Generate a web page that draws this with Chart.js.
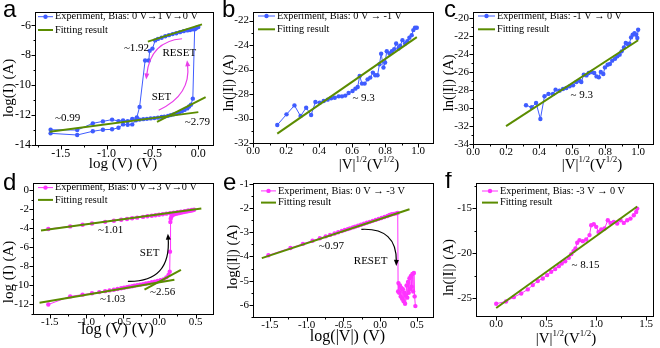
<!DOCTYPE html>
<html>
<head>
<meta charset="utf-8">
<script src="https://cdn.jsdelivr.net/npm/chart.js@4.4.0/dist/chart.umd.min.js"></script>
<style>
  body { margin: 0; background: #fff; }
  #fig { position: relative; width: 660px; height: 348px; overflow: hidden; background: #fff; }
  #fig canvas { position: absolute; }
</style>
</head>
<body>
<div id="fig">
  <canvas id="pa" width="220" height="172" style="left:0;top:0"></canvas>
  <canvas id="pb" width="220" height="172" style="left:220px;top:0"></canvas>
  <canvas id="pc" width="220" height="172" style="left:440px;top:0"></canvas>
  <canvas id="pd" width="220" height="176" style="left:0;top:172px"></canvas>
  <canvas id="pe" width="220" height="176" style="left:220px;top:172px"></canvas>
  <canvas id="pf" width="220" height="176" style="left:440px;top:172px"></canvas>
</div>
<script>
// ---- panel a: log(I) vs log(V), sweep 0 V -> 1 V -> 0 V
const aExpX = [-1.61, -1.32, -1.15, -1.04, -0.94, -0.87, -0.82, -0.77, -0.72, -0.68, -0.64, -0.6, -0.56, -0.52, -0.48, -0.44, -0.4, -0.37, -0.33, -0.3, -0.27, -0.24, -0.21, -0.18, -0.15, -0.12, -0.1, -0.08, -0.06, -0.04, -0.02, 0.0,
  -0.03, -0.06, -0.09, -0.12, -0.16, -0.2, -0.24, -0.28, -0.32, -0.36, -0.4, -0.44, -0.47, -0.5, -0.53, -0.54, -0.58, -0.64, -0.67, -0.72, -0.77, -0.82, -0.87, -0.94, -1.04, -1.15, -1.32, -1.61];
const aExpY = [-13.22, -13.33, -13.08, -12.98, -12.95, -12.85, -12.62, -12.65, -12.62, -12.35, -12.3, -12.27, -12.25, -12.22, -12.2, -12.17, -12.12, -12.1, -12.05, -12.0, -11.95, -11.9, -11.85, -11.75, -11.65, -11.55, -11.42, -11.3, -10.9, -6.25, -6.15, -6.1,
  -6.2, -6.25, -6.3, -6.33, -6.38, -6.45, -6.52, -6.58, -6.65, -6.72, -6.82, -6.9, -7.0, -7.55, -7.7, -8.35, -8.35, -11.45, -12.15, -12.25, -12.4, -12.35, -12.4, -12.3, -12.42, -12.55, -13.0, -12.98];
const aFitLowX = [-1.62, 0.0], aFitLowY = [-13.12, -11.8];
const aFitMidX = [-0.45, 0.08], aFitMidY = [-12.45, -10.8];
const aFitHighX = [-0.55, 0.04], aFitHighY = [-7.08, -5.93];
const aXLabels = ['-1.5', '-1.0', '-0.5', '0.0'];
const aYLabels = ['-14', '-12', '-10', '-8', '-6'];

// ---- panel b: ln(|I|) vs |V|^1/2, 0 V -> -1 V
const bExpX = [0.147, 0.203, 0.251, 0.288, 0.322, 0.352, 0.378, 0.404, 0.428, 0.452, 0.473, 0.495, 0.519, 0.539, 0.559, 0.579, 0.603, 0.62, 0.634, 0.646, 0.66, 0.676, 0.694, 0.71, 0.726, 0.74, 0.754, 0.766, 0.776, 0.79, 0.8, 0.81, 0.827, 0.841, 0.855, 0.867, 0.881, 0.891, 0.905, 0.921, 0.935, 0.947, 0.961, 0.971, 0.981, 0.992];
const bExpY = [-30.53, -29.66, -28.93, -29.8, -29.12, -29.71, -28.65, -28.71, -28.57, -28.46, -28.35, -28.3, -28.19, -28.19, -28.13, -27.91, -27.75, -27.56, -27.42, -26.52, -27.15, -27.15, -26.8, -26.66, -26.25, -26.47, -26.47, -25.57, -24.7, -25.84, -25.43, -24.5, -24.69, -24.5, -24.33, -23.87, -24.28, -24.06, -23.6, -23.87, -23.68, -23.4, -23.19, -22.78, -22.59, -22.59];
const bFitX = [0.147, 0.992], bFitY = [-31.24, -23.35];
const bXLabels = ['0.0', '0.2', '0.4', '0.6', '0.8', '1.0'];
const bYLabels = ['-32', '-30', '-28', '-26', '-24', '-22'];

// ---- panel c: ln(|I|) vs |V|^1/2, -1 V -> 0 V
const cExpX = [0.321, 0.356, 0.382, 0.408, 0.433, 0.457, 0.484, 0.5, 0.524, 0.545, 0.565, 0.585, 0.606, 0.626, 0.646, 0.656, 0.671, 0.687, 0.701, 0.718, 0.734, 0.748, 0.762, 0.774, 0.789, 0.799, 0.815, 0.829, 0.843, 0.86, 0.874, 0.888, 0.9, 0.914, 0.925, 0.937, 0.947, 0.957, 0.967, 0.978, 0.988, 0.995, 1.0];
const cExpY = [-29.69, -29.91, -29.43, -31.21, -28.68, -28.42, -28.42, -27.95, -28.06, -27.88, -27.77, -27.58, -27.47, -27.1, -26.95, -27.1, -26.29, -26.36, -26.1, -25.99, -26.1, -26.47, -26.58, -25.99, -26.21, -25.47, -25.17, -25.09, -24.72, -24.5, -24.24, -24.05, -23.68, -23.24, -22.75, -22.86, -22.83, -22.13, -21.83, -21.65, -21.83, -22.2, -21.28];
const cFitX = [0.2, 1.0], cFitY = [-32.0, -22.45];
const cXLabels = ['0.0', '0.2', '0.4', '0.6', '0.8', '1.0'];
const cYLabels = ['-34', '-32', '-30', '-28', '-26', '-24', '-22', '-20'];

// ---- panel d: log(I) vs log(V), 0 V -> 3 V -> 0 V
const dExpX = [-1.52, -1.22, -1.05, -0.92, -0.82, -0.74, -0.68, -0.62, -0.57, -0.52, -0.48, -0.44, -0.41, -0.37, -0.34, -0.3, -0.26, -0.22, -0.18, -0.14, -0.1, -0.06, -0.02, 0.02, 0.06, 0.1, 0.13, 0.146,
  0.15, 0.155, 0.16, 0.17, 0.19, 0.22, 0.25, 0.28, 0.31, 0.34, 0.37, 0.4, 0.43, 0.46, 0.48,
  0.45, 0.4, 0.35, 0.3, 0.25, 0.2, 0.15, 0.1, 0.05, 0.0, -0.05, -0.1, -0.16, -0.22, -0.3, -0.37, -0.44, -0.52, -0.62, -0.74, -0.92, -1.05, -1.22, -1.52];
const dExpY = [-12.0, -11.15, -10.97, -10.82, -10.7, -10.6, -10.52, -10.45, -10.38, -10.3, -10.25, -10.18, -10.13, -10.08, -10.02, -9.97, -9.92, -9.86, -9.8, -9.74, -9.66, -9.6, -9.52, -9.45, -9.38, -9.15, -8.9, -8.55,
  -6.45, -3.35, -3.0, -2.75, -2.6, -2.5, -2.45, -2.4, -2.35, -2.3, -2.25, -2.2, -2.15, -2.1, -2.05,
  -2.08, -2.13, -2.2, -2.25, -2.3, -2.36, -2.41, -2.46, -2.52, -2.57, -2.63, -2.68, -2.74, -2.8, -2.88, -2.95, -3.02, -3.1, -3.2, -3.32, -3.5, -3.62, -3.8, -4.07];
const dFitUpX = [-1.62, 0.58], dFitUpY = [-4.22, -1.91];
const dFitLowX = [-1.64, 0.21], dFitLowY = [-11.83, -9.41];
const dFitSteepX = [-0.2, 0.3], dFitSteepY = [-10.45, -8.37];
const dXLabels = ['-1.5', '-1.0', '-0.5', '0.0', '0.5'];
const dYLabels = ['-12', '-10', '-8', '-6', '-4', '-2', '0'];

// ---- panel e: log(|I|) vs log(|V|), 0 V -> -3 V
const eExpX = [-1.52, -1.22, -1.05, -0.92, -0.82, -0.74, -0.68, -0.62, -0.57, -0.52, -0.48, -0.44, -0.41, -0.37, -0.34, -0.3, -0.26, -0.22, -0.18, -0.14, -0.1, -0.06, -0.02, 0.02, 0.06, 0.1, 0.13, 0.16, 0.19, 0.22, 0.24, 0.245,
  0.25, 0.26, 0.27, 0.28, 0.29, 0.3, 0.31, 0.32, 0.33, 0.34, 0.35, 0.36, 0.37, 0.38, 0.39, 0.4, 0.41, 0.42, 0.43, 0.44, 0.45, 0.46, 0.47, 0.48];
const eExpY = [-3.95, -3.65, -3.48, -3.35, -3.25, -3.17, -3.11, -3.05, -3.0, -2.95, -2.91, -2.87, -2.84, -2.8, -2.77, -2.73, -2.69, -2.65, -2.61, -2.57, -2.53, -2.49, -2.45, -2.41, -2.37, -2.33, -2.29, -2.26, -2.24, -2.22, -2.2, -5.45,
  -5.1, -5.5, -5.2, -5.65, -5.3, -5.75, -5.35, -5.85, -5.5, -5.95, -5.6, -5.2, -5.7, -5.05, -5.5, -4.9, -5.35, -4.8, -5.25, -4.72, -5.45, -4.68, -5.65, -6.05];
const eFitX = [-1.61, 0.4], eFitY = [-4.07, -2.05];
const eXLabels = ['-1.5', '-1.0', '-0.5', '0.0', '0.5'];
const eYLabels = ['-6', '-5', '-4', '-3', '-2', '-1'];

// ---- panel f: ln(|I|) vs |V|^1/2, -3 V -> 0 V
const fExpX = [0.002, 0.1, 0.178, 0.252, 0.318, 0.368, 0.418, 0.468, 0.512, 0.552, 0.592, 0.628, 0.658, 0.692, 0.728, 0.752, 0.775, 0.795, 0.812, 0.835, 0.868, 0.902, 0.935, 0.952, 0.978, 1.002, 1.025, 1.052, 1.085, 1.118, 1.145, 1.178, 1.212, 1.245, 1.278, 1.312, 1.345, 1.378, 1.402, 1.412];
const fExpY = [-25.63, -25.38, -24.9, -24.49, -24.04, -23.56, -23.11, -22.82, -22.45, -22.08, -21.78, -21.45, -21.15, -20.9, -20.53, -20.12, -19.78, -19.48, -18.85, -18.56, -18.67, -18.48, -18.0, -16.9, -16.78, -17.08, -17.64, -17.38, -17.27, -16.34, -16.64, -16.53, -16.71, -16.34, -16.64, -16.34, -16.16, -15.79, -15.42, -15.05];
const fFitX = [0.002, 1.412], fFitY = [-26.11, -14.82];
const fXLabels = ['0.0', '0.5', '1.0', '1.5'];
const fYLabels = ['-25', '-20', '-15'];

const SERIF = '"Liberation Serif", "Times New Roman", serif';
const SANS = '"Liberation Sans", Arial, sans-serif';
const BLUE = '#3f5cff';
const MAGENTA = '#ff33ff';
const GREEN = '#5b8c00';
const SQRT_V = [['|V|'], ['1/2', true], ['(V'], ['1/2', true], [')']];

function pts(xs, ys) {
  return xs.map((x, i) => ({ x, y: ys[i] }));
}

function experiment(label, xs, ys, color) {
  return {
    label, data: pts(xs, ys), showLine: true, order: 2,
    borderColor: color, backgroundColor: color, borderWidth: 1,
    pointRadius: 2.2, pointBorderWidth: 0, pointBackgroundColor: color
  };
}

function fitLine(xs, ys) {
  return {
    label: 'Fitting result', data: pts(xs, ys), showLine: true, order: 1,
    borderColor: GREEN, borderWidth: 2, pointRadius: 0
  };
}

// linear axis with labelled major ticks and one minor tick between them
function axis(min, max, labels, fontSize, padding, fit) {
  const major = labels.map(Number);
  const half = (major[1] - major[0]) / 2;
  return {
    type: 'linear', min, max, bounds: 'data',
    grid: { display: false, drawTicks: false },
    border: { display: false },
    ticks: {
      autoSkip: false, maxRotation: 0, minRotation: 0, padding,
      color: '#000', font: { family: SERIF, size: fontSize },
      callback: v => {
        const i = major.findIndex(m => Math.abs(m - v) < 1e-6);
        return i < 0 ? '' : labels[i];
      }
    },
    afterBuildTicks: s => {
      let v = major[0];
      while (v - half >= min - 1e-9) v -= half;
      const ticks = [];
      for (; v <= max + 1e-9; v += half) ticks.push({ value: +v.toFixed(6) });
      s.ticks = ticks;
    },
    afterFit: fit
  };
}

// frame, tick marks, legend, notes, arrows, axis titles and panel letter
function decorations(p) {
  return {
    id: 'decor',
    afterDraw(chart) {
      const { ctx, chartArea: a, scales: { x, y } } = chart;
      const L = Math.round(a.left) + 0.5, R = Math.round(a.right) + 0.5;
      const T = Math.round(a.top) + 0.5, B = Math.round(a.bottom) + 0.5;
      ctx.save();
      ctx.strokeStyle = '#000';
      ctx.lineWidth = 1;
      ctx.strokeRect(L, T, R - L, B - T);
      ctx.beginPath();
      x.ticks.forEach(t => {
        const px = Math.round(x.getPixelForValue(t.value)) + 0.5;
        ctx.moveTo(px, B);
        ctx.lineTo(px, B + (t.label ? 4 : 2));
      });
      y.ticks.forEach(t => {
        const py = Math.round(y.getPixelForValue(t.value)) + 0.5;
        ctx.moveTo(L, py);
        ctx.lineTo(L - (t.label ? 4 : 2), py);
      });
      ctx.stroke();

      // legend: the font is sized so the first entry spans its given width
      const sets = chart.data.datasets;
      ctx.font = '12px ' + SERIF;
      const fs = Math.min(13, 12 * p.legend.width / ctx.measureText(sets[0].label).width);
      ctx.font = fs.toFixed(2) + 'px ' + SERIF;
      ctx.textAlign = 'left';
      ctx.textBaseline = 'middle';
      p.legend.rows.forEach((dy, i) => {
        const ds = sets[i];
        const ly = a.top + dy;
        const x0 = a.left + p.legend.line[0], x1 = a.left + p.legend.line[1];
        ctx.strokeStyle = ds.borderColor;
        ctx.lineWidth = ds.borderWidth;
        ctx.beginPath();
        ctx.moveTo(x0, ly);
        ctx.lineTo(x1, ly);
        ctx.stroke();
        if (ds.pointRadius) {
          ctx.fillStyle = ds.borderColor;
          ctx.beginPath();
          ctx.arc((x0 + x1) / 2, ly, ds.pointRadius, 0, Math.PI * 2);
          ctx.fill();
        }
        ctx.fillStyle = '#000';
        ctx.fillText(ds.label, a.left + p.legend.text, ly);
      });

      // slope values and SET / RESET notes
      ctx.textAlign = 'center';
      ctx.font = '11px ' + SERIF;
      ctx.fillStyle = '#000';
      p.notes.forEach(n => {
        ctx.fillText(n.t, x.getPixelForValue(n.at[0]), y.getPixelForValue(n.at[1]));
      });

      // curved arrows
      (p.arrows || []).forEach(ar => {
        const P = v => [x.getPixelForValue(v[0]), y.getPixelForValue(v[1])];
        const [sx, sy] = P(ar.from), [cx, cy] = P(ar.via), [ex, ey] = P(ar.to);
        const ang = Math.atan2(ey - cy, ex - cx);
        const hl = 6, hw = 2.5;
        const c = Math.cos(ang), s = Math.sin(ang);
        ctx.strokeStyle = ar.color;
        ctx.fillStyle = ar.color;
        ctx.lineWidth = 1.2;
        ctx.beginPath();
        ctx.moveTo(sx, sy);
        ctx.quadraticCurveTo(cx, cy, ex - c * hl * 0.7, ey - s * hl * 0.7);
        ctx.stroke();
        ctx.beginPath();
        ctx.moveTo(ex, ey);
        ctx.lineTo(ex - hl * c + hw * s, ey - hl * s - hw * c);
        ctx.lineTo(ex - hl * c - hw * s, ey - hl * s + hw * c);
        ctx.closePath();
        ctx.fill();
      });

      // y title
      ctx.fillStyle = '#000';
      ctx.save();
      ctx.translate(p.yTitle.at[0], p.yTitle.at[1]);
      ctx.rotate(-Math.PI / 2);
      ctx.font = '15px ' + SERIF;
      ctx.textAlign = 'center';
      ctx.textBaseline = 'middle';
      ctx.fillText(p.yTitle.text, 0, 0);
      ctx.restore();

      // x title, with raised exponents
      const size = p.xTitle.size, supSize = Math.round(size * 0.6);
      let w = 0;
      p.xTitle.parts.forEach(([t, sup]) => {
        ctx.font = (sup ? supSize : size) + 'px ' + SERIF;
        w += ctx.measureText(t).width;
      });
      let tx = p.xTitle.at[0] - w / 2;
      const ty = p.xTitle.at[1];
      ctx.textAlign = 'left';
      ctx.textBaseline = 'middle';
      p.xTitle.parts.forEach(([t, sup]) => {
        ctx.font = (sup ? supSize : size) + 'px ' + SERIF;
        ctx.fillText(t, tx, sup ? ty - size * 0.35 : ty);
        tx += ctx.measureText(t).width;
      });

      // panel letter
      ctx.font = '24px ' + SANS;
      ctx.textBaseline = 'alphabetic';
      ctx.fillText(p.letter, p.letterAt[0], p.letterAt[1]);
      ctx.restore();
    }
  };
}

function panel(p) {
  return new Chart(document.getElementById(p.canvas), {
    type: 'scatter',
    data: { datasets: p.datasets },
    options: {
      responsive: false,
      animation: false,
      events: [],
      layout: { padding: { left: 0, bottom: 0, top: p.pad.top, right: p.pad.right } },
      scales: {
        x: axis(p.x.min, p.x.max, p.x.labels, p.tickSize, 2, s => { s.height = p.x.h; }),
        y: axis(p.y.min, p.y.max, p.y.labels, p.tickSize, 4, s => { s.width = p.y.w; })
      },
      plugins: { legend: { display: false }, tooltip: { enabled: false } }
    },
    plugins: [decorations(p)]
  });
}

panel({
  canvas: 'pa', letter: 'a', letterAt: [3, 17], tickSize: 12,
  pad: { top: 12, right: 7 },
  x: { min: -1.78, max: 0.16, labels: aXLabels, h: 27 },
  y: { min: -14, max: -5.1, labels: aYLabels, w: 35 },
  datasets: [
    experiment('Experiment, Bias: 0 V\u21921 V\u21920 V', aExpX, aExpY, BLUE),
    fitLine(aFitLowX, aFitLowY), fitLine(aFitMidX, aFitMidY), fitLine(aFitHighX, aFitHighY)
  ],
  legend: { line: [3, 18], text: 20, rows: [4.7, 18], width: 143 },
  yTitle: { text: 'log(I) (A)', at: [9, 88] },
  xTitle: { parts: [['log (V) (V)']], at: [123, 164], size: 15 },
  notes: [
    { t: '~1.92', at: [-0.674, -7.53] }, { t: 'RESET', at: [-0.207, -7.87] },
    { t: 'SET', at: [-0.402, -10.8] }, { t: '~0.99', at: [-1.424, -12.2] },
    { t: '~2.79', at: [-0.011, -12.47] }
  ],
  arrows: [
    { from: [-0.177, -6.89], via: [-0.525, -7.05], to: [-0.568, -9.62], color: '#e83ee8' },
    { from: [-0.432, -11.67], via: [-0.077, -10.67], to: [-0.123, -8.33], color: '#e83ee8' }
  ]
});

panel({
  canvas: 'pb', letter: 'b', letterAt: [2, 17], tickSize: 11,
  pad: { top: 12, right: 7 },
  x: { min: 0, max: 1.09, labels: bXLabels, h: 29 },
  y: { min: -32, max: -21.3, labels: bYLabels, w: 33 },
  datasets: [experiment('Experiment, Bias: 0 V \u2192 -1 V', bExpX, bExpY, BLUE), fitLine(bFitX, bFitY)],
  legend: { line: [5, 22], text: 24, rows: [4, 17.3], width: 125 },
  yTitle: { text: 'ln(|I|) (A)', at: [9, 83] },
  xTitle: { parts: SQRT_V, at: [149, 165], size: 15 },
  notes: [{ t: '~ 9.3', at: [0.67, -28.3] }]
});

panel({
  canvas: 'pc', letter: 'c', letterAt: [4, 17], tickSize: 11,
  pad: { top: 12, right: 7 },
  x: { min: 0, max: 1.09, labels: cXLabels, h: 28 },
  y: { min: -34, max: -19.3, labels: cYLabels, w: 33 },
  datasets: [experiment('Experiment, Bias: -1 V \u2192 0 V', cExpX, cExpY, BLUE), fitLine(cFitX, cFitY)],
  legend: { line: [5, 22], text: 24, rows: [4, 17.3], width: 125 },
  yTitle: { text: 'ln(|I|) (A)', at: [9, 83] },
  xTitle: { parts: SQRT_V, at: [152, 165], size: 15 },
  notes: [{ t: '~ 9.3', at: [0.659, -28.54] }]
});

panel({
  canvas: 'pd', letter: 'd', letterAt: [3, 18], tickSize: 11,
  pad: { top: 10, right: 7 },
  x: { min: -1.73, max: 0.74, labels: dXLabels, h: 34 },
  y: { min: -13, max: 0.8, labels: dYLabels, w: 33 },
  datasets: [
    experiment('Experiment, Bias: 0 V\u21923 V\u21920 V', dExpX, dExpY, MAGENTA),
    fitLine(dFitUpX, dFitUpY), fitLine(dFitLowX, dFitLowY), fitLine(dFitSteepX, dFitSteepY)
  ],
  legend: { line: [5, 20], text: 22, rows: [5, 17.3], width: 142 },
  yTitle: { text: 'log (I) (A)', at: [9, 100] },
  xTitle: { parts: [['log (V) (V)']], at: [117.5, 158], size: 16 },
  notes: [
    { t: 'SET', at: [-0.13, -6.58] }, { t: '~1.01', at: [-0.665, -4.15] },
    { t: '~1.03', at: [-0.638, -11.48] }, { t: '~2.56', at: [0.048, -10.73] }
  ],
  arrows: [{ from: [-0.428, -9.58], via: [0.167, -9.67], to: [0.121, -4.56], color: '#000' }]
});

panel({
  canvas: 'pe', letter: 'e', letterAt: [3, 18], tickSize: 11,
  pad: { top: 10, right: 7 },
  x: { min: -1.73, max: 0.72, labels: eXLabels, h: 31 },
  y: { min: -6.5, max: -0.95, labels: eYLabels, w: 33 },
  datasets: [experiment('Experiment, Bias: 0 V \u2192 -3 V', eExpX, eExpY, MAGENTA), fitLine(eFitX, eFitY)],
  legend: { line: [8, 23], text: 25, rows: [8.3, 20], width: 127 },
  yTitle: { text: 'log(|I|) (A)', at: [13, 85] },
  xTitle: { parts: [['log(|V|) (V)']], at: [127.5, 165], size: 16 },
  notes: [{ t: 'RESET', at: [-0.129, -4.21] }, { t: '~0.97', at: [-0.662, -3.56] }],
  arrows: [{ from: [-0.255, -2.88], via: [0.229, -2.81], to: [0.22, -4.39], color: '#000' }]
});

panel({
  canvas: 'pf', letter: 'f', letterAt: [5, 16], tickSize: 11,
  pad: { top: 11, right: 7 },
  x: { min: -0.2, max: 1.57, labels: fXLabels, h: 32 },
  y: { min: -27, max: -12.2, labels: fYLabels, w: 36 },
  datasets: [experiment('Experiment, Bias: -3 V \u2192 0 V', fExpX, fExpY, MAGENTA), fitLine(fFitX, fFitY)],
  legend: { line: [6, 22], text: 24, rows: [8, 19.6], width: 125 },
  yTitle: { text: 'ln(|I|) (A)', at: [9, 95.5] },
  xTitle: { parts: SQRT_V, at: [126, 167], size: 15 },
  notes: [{ t: '~ 8.15', at: [0.895, -21.3] }]
});
</script>
</body>
</html>
